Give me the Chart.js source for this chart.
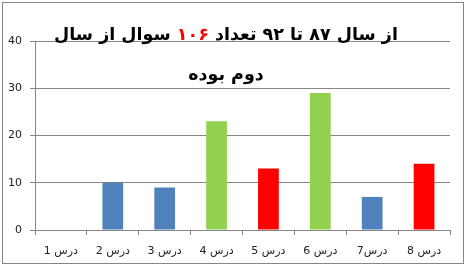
<!DOCTYPE html>
<html>
<head>
<meta charset="utf-8">
<script src="https://cdn.jsdelivr.net/npm/chart.js@4/dist/chart.umd.min.js"></script>
<style>
  html, body { margin: 0; padding: 0; background: #fff; }
  #wrap { position: relative; width: 466px; height: 267px; }
  #c { position: absolute; left: 0; top: 0; }
  #title { position: absolute; left: 0; top: 14px; width: 452px; text-align: center;
           font-family: "DejaVu Sans", sans-serif; font-weight: bold; font-size: 17.5px;
           line-height: 40px; color: #000; direction: rtl; }
  #title .red { color: #ff0000; }
</style>
</head>
<body>
<div id="wrap">
  <canvas id="c" width="466" height="267"></canvas>
  <div id="title">از سال ۸۷ تا ۹۲ تعداد <span class="red">۱۰۶</span> سوال از سال<br>دوم بوده</div>
</div>
<script>
const categories = ["درس 1", "درس 2", "درس 3", "درس 4", "درس 5", "درس 6", "درس7", "درس 8"];
const values = [0, 10, 9, 23, 13, 29, 7, 14];
const barColors = ["#4f81bd", "#4f81bd", "#4f81bd", "#92d050", "#ff0000", "#92d050", "#4f81bd", "#ff0000"];
const yTicks = [0, 10, 20, 30, 40];

const borderPlugin = {
  id: 'outerBorder',
  beforeDraw(chart) {
    const ctx = chart.ctx;
    ctx.save();
    ctx.fillStyle = '#fff';
    ctx.fillRect(0, 0, chart.width, chart.height);
    ctx.strokeStyle = '#868686';
    ctx.lineWidth = 1;
    ctx.strokeRect(2.5, 2.5, 461, 261);
    ctx.restore();
  }
};

// draws the right-to-left category labels: number on the left, word on the right
const rtlLabelPlugin = {
  id: 'rtlLabels',
  afterDraw(chart) {
    const ctx = chart.ctx;
    const xs = chart.scales.x;
    ctx.save();
    ctx.font = '11px "DejaVu Sans"';
    ctx.fillStyle = '#222';
    ctx.textBaseline = 'middle';
    ctx.textAlign = 'left';
    const y = xs.bottom - 11;
    categories.forEach((label, i) => {
      const m = label.match(/^(\D*?)(\s*)(\d+)$/);
      const word = m ? m[1] : label, sp = m ? m[2] : '', num = m ? m[3] : '';
      const wNum = ctx.measureText(num).width;
      const wSp = sp ? ctx.measureText(' ').width : 0;
      const wWord = ctx.measureText(word).width;
      const x0 = xs.getPixelForValue(i) - (wNum + wSp + wWord) / 2;
      ctx.fillText(num, x0, y);
      ctx.fillText(word, x0 + wNum + wSp, y);
    });
    ctx.restore();
  }
};

new Chart(document.getElementById('c'), {
  type: 'bar',
  data: {
    labels: categories,
    datasets: [{ data: values, backgroundColor: barColors, categoryPercentage: 1, barPercentage: 0.4 }]
  },
  plugins: [borderPlugin, rtlLabelPlugin],
  options: {
    responsive: false,
    animation: false,
    layout: { padding: { left: 4, right: 16, top: 41, bottom: 5 } },
    plugins: { legend: { display: false }, tooltip: { enabled: false }, title: { display: false } },
    scales: {
      x: {
        grid: { display: true, drawOnChartArea: false, drawTicks: true, tickLength: 5, color: '#868686', offset: true },
        border: { color: '#868686' },
        ticks: { autoSkip: false, maxRotation: 0, callback() { return ''; } },
        afterFit(s) { s.height = 32; }
      },
      y: {
        min: 0, max: 40,
        afterBuildTicks(s) { s.ticks = yTicks.map(v => ({ value: v })); },
        grid: { color: '#868686', tickLength: 5 },
        border: { color: '#868686' },
        ticks: { color: '#222', font: { family: 'DejaVu Sans', size: 11 }, padding: 8 },
        afterFit(s) { s.width = 31; }
      }
    }
  }
});
</script>
</body>
</html>
